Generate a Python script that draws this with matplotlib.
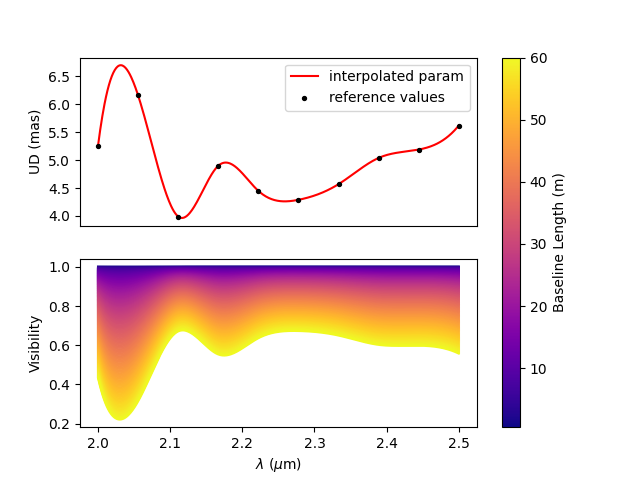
import numpy             as np
import matplotlib.pyplot as plt
from matplotlib.ticker import MultipleLocator

# reference UD diameters (mas) at the sampled wavelengths (um)
wl_ref = np.linspace(2.0, 2.5, 10)
ud_ref = [5.26, 6.16, 3.99, 4.90, 4.45, 4.29, 4.57, 5.04, 5.19, 5.62]

# baselines (m)
baselines = np.linspace(0.5, 60, 150)

wl = np.linspace(2.0, 2.5, 500)


def notaknot_spline(x, y, xn):
    # cubic spline with not-a-knot ends, solved as one linear system
    x = np.asarray(x, float); y = np.asarray(y, float)
    n = len(x) - 1
    A = np.zeros((4*n, 4*n)); b = np.zeros(4*n)
    r = 0
    for i in range(n):
        h = x[i+1] - x[i]
        A[r, 4*i] = 1; b[r] = y[i]; r += 1
        A[r, 4*i:4*i+4] = [1, h, h**2, h**3]; b[r] = y[i+1]; r += 1
    for i in range(n-1):
        h = x[i+1] - x[i]
        A[r, 4*i:4*i+4] = [0, 1, 2*h, 3*h**2]; A[r, 4*(i+1)+1] = -1; r += 1
        A[r, 4*i:4*i+4] = [0, 0, 2, 6*h]; A[r, 4*(i+1)+2] = -2; r += 1
    A[r, 3] = 1; A[r, 7] = -1; r += 1
    A[r, 4*(n-2)+3] = 1; A[r, 4*(n-1)+3] = -1; r += 1
    c = np.linalg.solve(A, b).reshape(n, 4)
    idx = np.clip(np.searchsorted(x, xn) - 1, 0, n-1)
    t = xn - x[idx]
    return c[idx, 0] + c[idx, 1]*t + c[idx, 2]*t**2 + c[idx, 3]*t**3


def j1(z):
    tau = np.linspace(0, np.pi, 400)
    return np.trapezoid(np.cos(tau[None, :] - z[:, None]*np.sin(tau[None, :])), tau, axis=1)/np.pi


ud = notaknot_spline(wl_ref, ud_ref, wl)
theta = ud*1e-3/206265.0

fig, axes = plt.subplots(2, 1, sharex=True)
ax1, ax2 = axes

ax1.plot(wl, ud, color="red", label="interpolated param")
ax1.scatter(wl_ref, ud_ref, color="black", s=8, label="reference values", zorder=3)
ax1.set_ylabel("UD (mas)")
ax1.yaxis.set_major_locator(MultipleLocator(0.5))
ax1.tick_params(axis="x", bottom=False)
ax1.legend(loc="upper right")

cmap = plt.get_cmap("plasma")
norm = plt.Normalize(baselines.min(), baselines.max())
for B in baselines:
    z = np.pi*B*theta/(wl*1e-6)
    vis = np.abs(2*j1(z)/z)
    ax2.plot(wl, vis, color=cmap(norm(B)), lw=1.5)
ax2.set_ylabel("Visibility")
ax2.set_xlabel(r"$\lambda$ ($\mu$m)")

sm = plt.cm.ScalarMappable(norm=norm, cmap=cmap)
cb = fig.colorbar(sm, ax=axes)
cb.set_label("Baseline Length (m)")

plt.savefig("out.png", dpi=100)
